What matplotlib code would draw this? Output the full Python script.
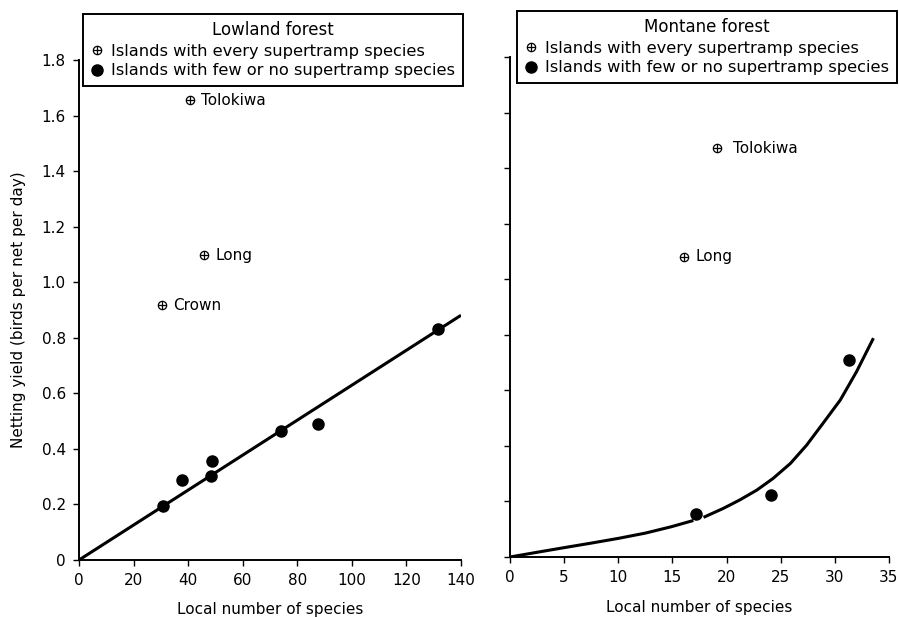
import matplotlib
matplotlib.use("Agg")
import matplotlib.pyplot as plt
from matplotlib.lines import Line2D

# lowland forest
low_every_x = [40.7, 45.8, 30.3]
low_every_y = [1.655, 1.097, 0.917]
low_every_names = ["Tolokiwa", "Long", "Crown"]
low_few_x = [30.8, 37.7, 48.6, 48.2, 74.0, 87.6, 131.4]
low_few_y = [0.195, 0.288, 0.357, 0.303, 0.464, 0.489, 0.831]
low_fit_x = [0, 140]
low_fit_y = [0.0, 0.881]

# montane forest
mon_every_x = [19.1, 16.1]
mon_every_y = [1.472, 1.080]
mon_every_names = ["Tolokiwa", "Long"]
mon_few_x = [17.2, 24.1, 31.3]
mon_few_y = [0.154, 0.223, 0.711]
# hand-drawn curve, broken around the dot at 17
mon_curve1_x = [0, 2.5, 4.9, 7.5, 10.0, 12.5, 14.9, 16.8]
mon_curve1_y = [0.0, 0.017, 0.033, 0.050, 0.067, 0.086, 0.109, 0.13]
mon_curve2_x = [18.0, 19.7, 21.2, 22.8, 24.3, 25.9, 27.4, 28.9, 30.5, 32.0, 33.5]
mon_curve2_y = [0.145, 0.175, 0.205, 0.241, 0.283, 0.337, 0.403, 0.481, 0.565, 0.667, 0.783]

y_ticks = [0, 0.2, 0.4, 0.6, 0.8, 1.0, 1.2, 1.4, 1.6, 1.8]
y_ticklabels = ["0", "0.2", "0.4", "0.6", "0.8", "1.0", "1.2", "1.4", "1.6", "1.8"]
low_x_ticks = [0, 20, 40, 60, 80, 100, 120, 140]
mon_x_ticks = [0, 5, 10, 15, 20, 25, 30, 35]

plt.rcParams["font.family"] = "DejaVu Sans"
fs = 11
leg_fs = 11.7

fig = plt.figure(figsize=(8.99, 6.17), dpi=100)
W, H = 899, 617
ax1 = fig.add_axes([79 / W, 1 - 560 / H, 382 / W, 500 / H])
ax2 = fig.add_axes([510 / W, 1 - 557 / H, 379 / W, 500 / H])


def crossed(ax, x, y):
    ax.plot(x, y, "o", ms=6, mfc="white", mec="black", mew=0.9, ls="none", zorder=3)
    ax.plot(x, y, "+", ms=6, mec="black", mew=0.9, ls="none", zorder=4)


def style(ax, xlim, xticks, xpad):
    ax.set_xlim(xlim)
    ax.set_ylim(0, 1.8)
    ax.set_xticks(xticks)
    ax.set_yticks(y_ticks)
    for s in ["top", "right"]:
        ax.spines[s].set_visible(False)
    for s in ["left", "bottom"]:
        ax.spines[s].set_linewidth(1.4)
    ax.tick_params(direction="out", length=4.5, width=1.0, labelsize=fs, pad=5)
    ax.set_xlabel("Local number of species", fontsize=fs, labelpad=xpad)


# left panel
style(ax1, (0, 140), low_x_ticks, 10)
ax1.set_yticklabels(y_ticklabels)
ax1.set_ylabel("Netting yield (birds per net per day)", fontsize=fs, labelpad=11)
ax1.plot(low_fit_x, low_fit_y, color="black", lw=2.2, solid_capstyle="butt", zorder=2)
ax1.plot(low_few_x, low_few_y, "o", ms=8, color="black", ls="none", zorder=3)
crossed(ax1, low_every_x, low_every_y)
for x, y, n in zip(low_every_x, low_every_y, low_every_names):
    ax1.annotate(n, (x, y), xytext=(8, 0), textcoords="offset points",
                 va="center", ha="left", fontsize=fs)

# right panel
style(ax2, (0, 35), mon_x_ticks, 11)
ax2.set_yticklabels([])
ax2.plot(mon_curve1_x, mon_curve1_y, color="black", lw=2.2, zorder=2)
ax2.plot(mon_curve2_x, mon_curve2_y, color="black", lw=2.2, zorder=2)
ax2.plot(mon_few_x, mon_few_y, "o", ms=8, color="black", ls="none", zorder=3)
crossed(ax2, mon_every_x, mon_every_y)
for x, y, n, off in zip(mon_every_x, mon_every_y, mon_every_names, [12, 8]):
    ax2.annotate(n, (x, y), xytext=(off, 0), textcoords="offset points",
                 va="center", ha="left", fontsize=fs)

# legends
h_every = (Line2D([], [], marker="o", ms=6, mfc="white", mec="black", mew=0.9, ls="none"),
           Line2D([], [], marker="+", ms=6, mec="black", mew=0.9, ls="none"))
h_few = Line2D([], [], marker="o", ms=8, color="black", ls="none")
labels = ["Islands with every supertramp species", "Islands with few or no supertramp species"]
for ax, title, anchor in [(ax1, "Lowland forest", (0.01, 1.092)),
                          (ax2, "Montane forest", (0.018, 1.092))]:
    leg = ax.legend([h_every, h_few], labels, title=title, loc="upper left",
                    bbox_to_anchor=anchor, borderaxespad=0, fontsize=leg_fs,
                    title_fontsize=12, frameon=True, fancybox=False,
                    handlelength=0.8, handletextpad=0.5, borderpad=0.45,
                    labelspacing=0.28, framealpha=1)
    leg.get_frame().set_edgecolor("black")
    leg.get_frame().set_linewidth(1.4)

fig.savefig("out.png", dpi=100)
